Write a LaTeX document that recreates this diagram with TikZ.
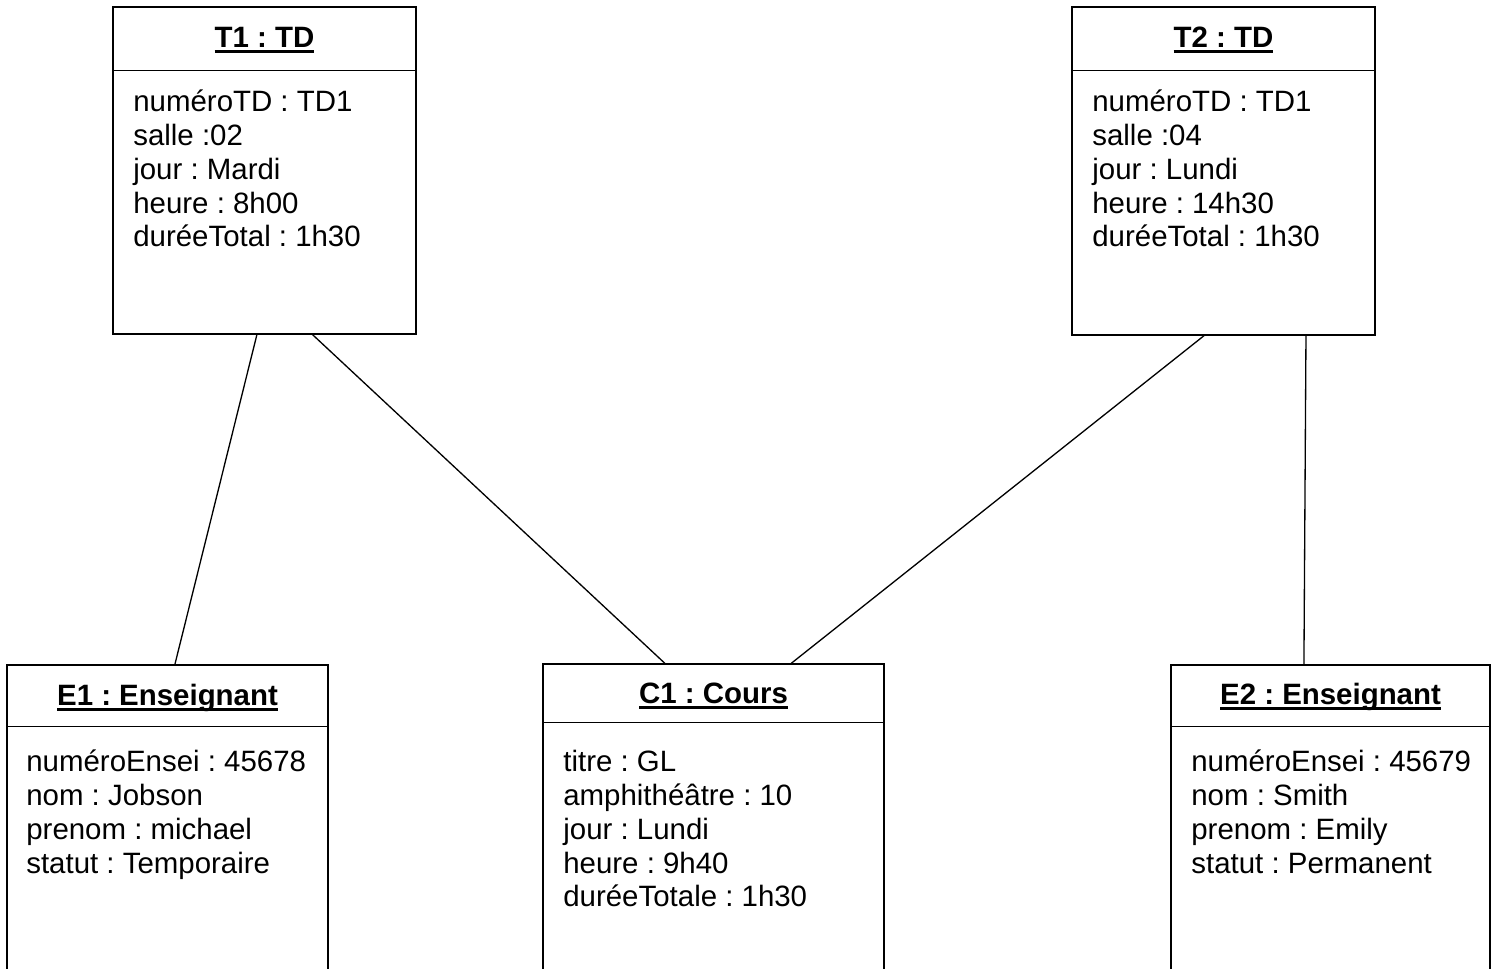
\documentclass[tikz,border=0pt]{standalone}
\usepackage{fontspec}
\setmainfont{Liberation Sans}
\usetikzlibrary{calc, fit}
\frenchspacing

\newcommand{\objname}[1]{\setbox0=\hbox{#1}\rlap{\rule[-3.4pt]{\wd0}{1.6pt}}\box0}
\newcommand{\attrstrut}{\rule{0pt}{16pt}}

\tikzset{
  objbox/.style={draw, line width=0.75pt, inner sep=0pt},
  objtitle/.style={anchor=base, inner sep=0pt, font=\fontsize{16.75}{19.3}\selectfont\bfseries},
  attrs/.style={anchor=north west, inner sep=0pt, align=left, font=\fontsize{16.75}{19.3}\selectfont},
  link/.style={line width=0.75pt}
}

\begin{document}
\begin{tikzpicture}[x=0.02cm, y=-0.02cm]
    \useasboundingbox (0,0) rectangle (1496,968);
    \clip (0,0) rectangle (1496,968);

    % --- TD OBJECTS (TOP) ---
    \node[objbox, fit={(113,7) (416,334)}] (t1) {};
    \draw[link] ($(t1.north west)+(0,64)$) -- ($(t1.north east)+(0,64)$);
    \node[objtitle] (t1name) at (264.5,47) {\objname{T1 : TD}};
    \node[attrs] (t1attr) at (133,82.8) {\attrstrut numéroTD : TD1\\ salle :02\\ jour : Mardi\\ heure : 8h00\\ duréeTotal : 1h30};

    \node[objbox, fit={(1072,7) (1375,335)}] (t2) {};
    \draw[link] ($(t2.north west)+(0,64)$) -- ($(t2.north east)+(0,64)$);
    \node[objtitle] (t2name) at (1223.5,47) {\objname{T2 : TD}};
    \node[attrs] (t2attr) at (1092,82.8) {\attrstrut numéroTD : TD1\\ salle :04\\ jour : Lundi\\ heure : 14h30\\ duréeTotal : 1h30};

    % --- ENSEIGNANTS AND COURS (BOTTOM) ---
    \node[objbox, fit={(7,665) (328,1000)}] (e1) {};
    \draw[link] ($(e1.north west)+(0,62)$) -- ($(e1.north east)+(0,62)$);
    \node[objtitle] (e1name) at (167.5,705) {\objname{E1 : Enseignant}};
    \node[attrs] (e1attr) at (26,742.8) {\attrstrut numéroEnsei : 45678\\ nom : Jobson\\ prenom : michael\\ statut : Temporaire};

    \node[objbox, fit={(543,664) (884,1000)}] (c1) {};
    \draw[link] ($(c1.north west)+(0,59)$) -- ($(c1.north east)+(0,59)$);
    \node[objtitle] (c1name) at (713.5,703) {\objname{C1 : Cours}};
    \node[attrs] (c1attr) at (563,742.8) {\attrstrut titre : GL\\ amphithéâtre : 10\\ jour : Lundi\\ heure : 9h40\\ duréeTotale : 1h30};

    \node[objbox, fit={(1171,665) (1490,1000)}] (e2) {};
    \draw[link] ($(e2.north west)+(0,62)$) -- ($(e2.north east)+(0,62)$);
    \node[objtitle] (e2name) at (1330.5,704) {\objname{E2 : Enseignant}};
    \node[attrs] (e2attr) at (1191,742.8) {\attrstrut numéroEnsei : 45679\\ nom : Smith\\ prenom : Emily\\ statut : Permanent};

    % Links
    \draw[link] ($(t1.south west)!0.475!(t1.south east)$) -- ($(e1.north west)!0.523!(e1.north east)$);
    \draw[link] ($(t1.south west)!0.658!(t1.south east)$) -- ($(c1.north west)!0.358!(c1.north east)$);
    \draw[link] ($(t2.south west)!0.436!(t2.south east)$) -- ($(c1.north west)!0.727!(c1.north east)$);
    \draw[link] ($(t2.south west)!0.771!(t2.south east)$) -- ($(e2.north west)!0.417!(e2.north east)$);
\end{tikzpicture}
\end{document}
